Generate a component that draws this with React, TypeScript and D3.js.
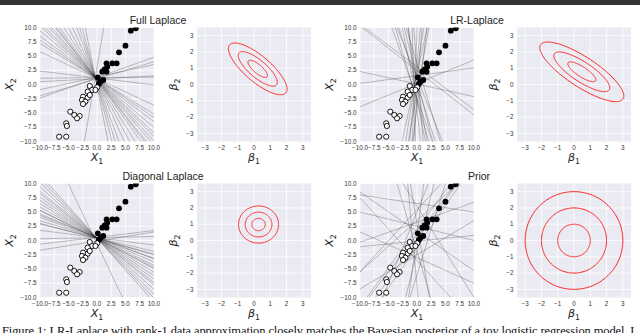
import React, { useEffect, useRef } from "react";
import * as d3 from "d3";

// ---- data ----
const panelTitles = ["Full Laplace", "LR-Laplace", "Diagonal Laplace", "Prior"];
const scatterTicks = [-10, -7.5, -5, -2.5, 0, 2.5, 5, 7.5, 10];
const betaTicks = [-3, -2, -1, 0, 1, 2, 3];

// class 1 (filled) and class 0 (open) training points
const positivePoints: [number, number][] = [
  [5.93, 9.44], [6.81, 9.85], [4.99, 6.81], [3.86, 5.64], [3.45, 3.72],
  [2.69, 3.72], [1.68, 3.72], [1.33, 2.66], [1.8, 3.12], [0.92, 2.25],
  [1.68, 2.25], [0.14, 1.26], [0.62, 0.49], [1.1, 0.79], [0.32, 0.09],
];
const negativePoints: [number, number][] = [
  [-1.27, -0.26], [0.03, -0.49], [-0.85, -0.96], [-1.63, -1.26], [-0.27, -0.96],
  [-2.45, -2.14], [-1.63, -2.31], [-1.27, -1.84], [-2.63, -2.72], [-2.04, -3.02],
  [-2.45, -3.42], [-4.69, -4.77], [-3.98, -5.35], [-3.04, -5.53], [-3.5, -5.93],
  [-5.4, -6.81], [-5.28, -7.28], [-6.64, -9.16], [-5.4, -9.16],
];

// sampled decision boundaries, [slope, intercept]
const fullLaplaceLines: [number, number][] = [
  [-0.94, 0.92], [-1.0, 0.9], [-1.08, 0.88], [-1.15, 0.85], [-1.25, 0.82],
  [-1.4, 0.78], [-1.6, 0.72], [-1.85, 0.65], [-2.2, 0.55], [-2.7, 0.4],
  [-3.2, 0.25], [-3.8, 0.05], [-0.62, 1.0], [-0.47, 1.05], [-0.75, 0.98],
  [-0.85, 0.95], [0.01, 1.2], [0.05, 1.0], [-0.12, 1.15], [0.22, 1.3],
  [0.3, 1.0], [0.36, 1.2], [5.9, 3.0], [-0.68, 1.0], [-1.3, 0.8], [-5.0, -0.3],
];
const lrLaplaceLines: [number, number][] = [
  [-2.82, -2.4], [-3.39, -2.9], [-3.13, 0], [-4.88, -2.7], [-3.33, 3.67],
  [-9.5, -4.3], [-34, -19], [22.7, 9.3], [10.5, 3.7], [6.25, 2.5],
  [4.5, 1.9], [-0.78, 2.45], [-0.75, 3.1], [-0.22, 0.08], [0.135, 1.55],
  [0.41, 0.2], [-6, 0.5], [14, -2], [-4, 1.0], [8, -4], [-2.5, 1.2],
  [-12, 3], [5.5, -1.5],
];
const diagLaplaceLines: [number, number][] = [
  [-1.12, 0.4], [-1.05, 0.4], [-0.98, 0.4], [-0.9, 0.42], [-0.78, 0.42],
  [-0.72, 0.43], [-0.66, 0.43], [-0.6, 0.44], [-0.54, 0.45], [-0.48, 0.45],
  [-0.42, 0.46], [-0.36, 0.46], [-0.3, 0.47], [-0.24, 0.48], [-0.13, 0.49],
  [0.02, 0.5], [0.16, -0.1], [-2.1, -0.6], [-0.82, 0.42], [-0.5, 0.3],
  [-0.38, 0.6], [-0.27, 0.3], [0.12, 0.55],
];
const priorLines: [number, number][] = [
  [1.36, 2.0], [1.39, 0.1], [1.44, -1.1], [1.3, 1.0], [-3.4, -1.9],
  [7.5, 1.0], [-11, -8], [4.0, -2.0], [-6, 3], [-0.69, 1.6],
  [-0.25, 2.5], [0.1, -0.1], [0.35, 3.2], [-0.45, -3.0], [0.9, 3.5],
  [1.09, 5.4], [-1.6, 6], [2.5, 5], [-0.15, 6.5], [0.6, -2.5],
  [-1.1, -3.5], [3.2, -6],
];

// gaussian posteriors over beta: mean, sd, correlation
const posteriorMeans: [number, number][] = [[0.23, 0.96], [0.48, 0.78], [0.28, 0.98], [0, 0]];
const posteriorSds: [number, number][] = [[0.6, 0.53], [0.86, 0.61], [0.41, 0.38], [1, 1]];
const posteriorRhos = [-0.78, -0.81, 0, 0];
const contourLevels = [1, 2, 3];

const caption =
  "Figure 1: LR-Laplace with rank-1 data approximation closely matches the Bayesian posterior of a toy logistic regression model. L";

// ---- layout ----
const W = 640;
const H = 333;
const colX = [40, 197, 360, 517];
const rowY = [27.5, 183.5];
const size = 114;
const titleX = [158, 477, 163, 479];

export default function App() {
  const ref = useRef<SVGSVGElement>(null);

  useEffect(() => {
    const svg = d3.select(ref.current);
    svg.selectAll("*").remove();
    svg.append("rect").attr("width", W).attr("height", H).attr("fill", "white");
    svg.append("rect").attr("width", W).attr("height", 5).attr("fill", "#333");

    const lineSets = [fullLaplaceLines, lrLaplaceLines, diagLaplaceLines, priorLines];

    const drawFrame = (
      g: d3.Selection<SVGGElement, unknown, null, undefined>,
      x: d3.ScaleLinear<number, number>,
      y: d3.ScaleLinear<number, number>,
      ticks: number[],
      fmt: (d: number) => string
    ) => {
      g.append("rect")
        .attr("x", x.range()[0])
        .attr("y", y.range()[1])
        .attr("width", size)
        .attr("height", size)
        .attr("fill", "#EAEAF2");
      g.append("g")
        .selectAll("line")
        .data(ticks)
        .enter()
        .append("line")
        .attr("x1", (d) => x(d))
        .attr("x2", (d) => x(d))
        .attr("y1", y.range()[0])
        .attr("y2", y.range()[1])
        .attr("stroke", "white")
        .attr("stroke-width", 0.8);
      g.append("g")
        .selectAll("line")
        .data(ticks)
        .enter()
        .append("line")
        .attr("y1", (d) => y(d))
        .attr("y2", (d) => y(d))
        .attr("x1", x.range()[0])
        .attr("x2", x.range()[1])
        .attr("stroke", "white")
        .attr("stroke-width", 0.8);
      const lab = g
        .append("g")
        .attr("font-family", "Liberation Sans, Arial, sans-serif")
        .attr("font-size", 6.3)
        .attr("fill", "#333");
      lab
        .selectAll("text.xt")
        .data(ticks)
        .enter()
        .append("text")
        .attr("x", (d) => x(d))
        .attr("y", y.range()[0] + 8)
        .attr("text-anchor", "middle")
        .text(fmt);
      lab
        .selectAll("text.yt")
        .data(ticks)
        .enter()
        .append("text")
        .attr("x", x.range()[0] - 3.5)
        .attr("y", (d) => y(d))
        .attr("dy", "0.35em")
        .attr("text-anchor", "end")
        .text(fmt);
    };

    const axisLabel = (
      g: d3.Selection<SVGGElement, unknown, null, undefined>,
      sym: string,
      sub: string,
      cx: number,
      cy: number,
      rotate: boolean
    ) => {
      const t = g
        .append("text")
        .attr("font-family", "DejaVu Sans, sans-serif")
        .attr("font-size", 11)
        .attr("fill", "#222")
        .attr("text-anchor", "middle")
        .attr("transform", `translate(${cx},${cy})${rotate ? " rotate(-90)" : ""}`);
      t.append("tspan").attr("font-style", "italic").text(sym);
      t.append("tspan").attr("font-size", 7.8).attr("dy", 2.5).text(sub);
    };

    const scatterFmt = (d: number) => d3.format(".1f")(d).replace("-", "\u2212");
    const betaFmt = (d: number) => String(d).replace("-", "\u2212");

    for (let p = 0; p < 4; p++) {
      const col = (p % 2) * 2;
      const row = Math.floor(p / 2);
      const top = rowY[row];

      // scatter panel with decision boundaries
      const sx = d3.scaleLinear().domain([-10, 10]).range([colX[col], colX[col] + size]);
      const sy = d3.scaleLinear().domain([-10, 10]).range([top + size, top]);
      const gs = svg.append("g");
      drawFrame(gs, sx, sy, scatterTicks, scatterFmt);
      const clipId = `clip-s${p}`;
      gs.append("clipPath")
        .attr("id", clipId)
        .append("rect")
        .attr("x", colX[col])
        .attr("y", top)
        .attr("width", size)
        .attr("height", size);
      const inner = gs.append("g").attr("clip-path", `url(#${clipId})`);
      inner
        .selectAll("line")
        .data(lineSets[p])
        .enter()
        .append("line")
        .attr("x1", sx(-10))
        .attr("x2", sx(10))
        .attr("y1", (d) => sy(d[0] * -10 + d[1]))
        .attr("y2", (d) => sy(d[0] * 10 + d[1]))
        .attr("stroke", "#222")
        .attr("stroke-opacity", 0.45)
        .attr("stroke-width", 0.6);
      inner
        .selectAll("circle.pos")
        .data(positivePoints)
        .enter()
        .append("circle")
        .attr("cx", (d) => sx(d[0]))
        .attr("cy", (d) => sy(d[1]))
        .attr("r", 2.9)
        .attr("fill", "black");
      inner
        .selectAll("circle.neg")
        .data(negativePoints)
        .enter()
        .append("circle")
        .attr("cx", (d) => sx(d[0]))
        .attr("cy", (d) => sy(d[1]))
        .attr("r", 2.6)
        .attr("fill", "white")
        .attr("stroke", "black")
        .attr("stroke-width", 0.9);
      axisLabel(gs, "X", "1", colX[col] + size / 2, top + size + 19.5, false);
      axisLabel(gs, "X", "2", colX[col] - 27, top + size / 2, true);

      // beta contour panel
      const bx = d3.scaleLinear().domain([-3.5, 3.5]).range([colX[col + 1], colX[col + 1] + size]);
      const by = d3.scaleLinear().domain([-3.5, 3.5]).range([top + size, top]);
      const gb = svg.append("g");
      drawFrame(gb, bx, by, betaTicks, betaFmt);
      const [m1, m2] = posteriorMeans[p];
      const [s1, s2] = posteriorSds[p];
      const rho = posteriorRhos[p];
      const angles = d3.range(0, 2 * Math.PI + 0.01, Math.PI / 90);
      gb.append("g")
        .selectAll("path")
        .data(contourLevels)
        .enter()
        .append("path")
        .attr("d", (k) =>
          d3
            .line<number>()
            .x((t) => bx(m1 + k * s1 * Math.cos(t)))
            .y((t) => by(m2 + k * s2 * (rho * Math.cos(t) + Math.sqrt(1 - rho * rho) * Math.sin(t))))(
            angles
          )
        )
        .attr("fill", "none")
        .attr("stroke", "#f22")
        .attr("stroke-width", 1.0);
      axisLabel(gb, "\u03b2", "1", colX[col + 1] + size / 2, top + size + 19.5, false);
      axisLabel(gb, "\u03b2", "2", colX[col + 1] - 20, top + size / 2, true);

      svg
        .append("text")
        .attr("x", titleX[p])
        .attr("y", top - 4)
        .attr("text-anchor", "middle")
        .attr("font-family", "Liberation Sans, Arial, sans-serif")
        .attr("font-size", 10.5)
        .attr("fill", "#222")
        .text(panelTitles[p]);
    }

    svg
      .append("text")
      .attr("x", 2)
      .attr("y", 335)
      .attr("font-family", "Liberation Serif, Times New Roman, serif")
      .attr("font-size", 12.5)
      .attr("textLength", 636)
      .attr("lengthAdjust", "spacing")
      .attr("fill", "#111")
      .text(caption);
  }, []);

  return (
    <svg
      ref={ref}
      width={W}
      height={H}
      style={{ position: "absolute", left: 0, top: 0, display: "block" }}
    />
  );
}
